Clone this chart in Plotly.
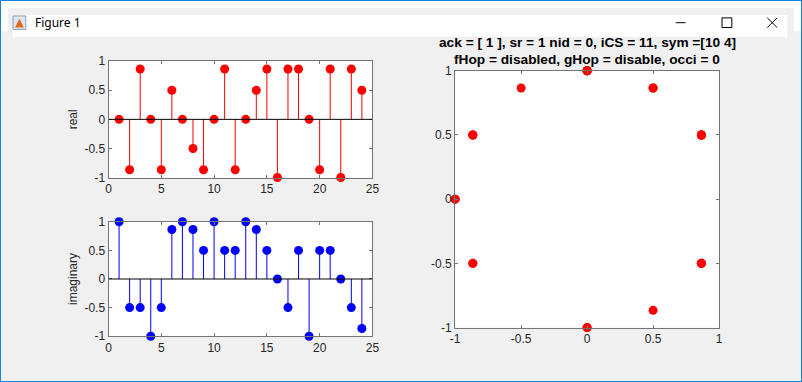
import plotly.graph_objects as go

n = list(range(1, 25))
real_vals = [0, -0.866, 0.866, 0, -0.866, 0.5, 0, -0.5, -0.866, 0, 0.866, -0.866,
             0, 0.5, 0.866, -1, 0.866, 0.866, 0, -0.866, 0.866, -1, 0.866, 0.5]
imag_vals = [1, -0.5, -0.5, -1, -0.5, 0.866, 1, 0.866, 0.5, 1, 0.5, 0.5,
             1, 0.866, 0.5, 0, -0.5, 0.5, -1, 0.5, 0.5, 0, -0.5, -0.866]
left_xticks = [0, 5, 10, 15, 20, 25]
ticks = [-1, -0.5, 0, 0.5, 1]
title_lines = ["ack = [ 1 ], sr = 1 nid = 0, iCS = 11, sym =[10 4]",
               "fHop = disabled, gHop = disable, occi = 0"]

# page body keeps its default 8px margin, so the figure is 16px smaller than the window
OX, OY = 8, 8
W, H = 786, 366
def fx(px): return (px - OX) / W
def fy(py): return 1 - (py - OY) / H

def stems(xs, ys):
    sx, sy = [], []
    for a, b in zip(xs, ys):
        sx += [a, a, None]
        sy += [0, b, None]
    return sx, sy

fig = go.Figure()
RED = "#ff0000"
BLUE = "#0000ff"

sx, sy = stems(n, real_vals)
fig.add_trace(go.Scatter(x=sx, y=sy, mode="lines", line=dict(color=RED, width=1),
                         xaxis="x", yaxis="y", showlegend=False, hoverinfo="skip"))
fig.add_trace(go.Scatter(x=n, y=real_vals, mode="markers", cliponaxis=False,
                         marker=dict(color=RED, size=9), xaxis="x", yaxis="y", showlegend=False))
sx, sy = stems(n, imag_vals)
fig.add_trace(go.Scatter(x=sx, y=sy, mode="lines", line=dict(color=BLUE, width=1),
                         xaxis="x2", yaxis="y2", showlegend=False, hoverinfo="skip"))
fig.add_trace(go.Scatter(x=n, y=imag_vals, mode="markers", cliponaxis=False,
                         marker=dict(color=BLUE, size=9), xaxis="x2", yaxis="y2", showlegend=False))
fig.add_trace(go.Scatter(x=real_vals, y=imag_vals, mode="markers", cliponaxis=False,
                         marker=dict(color=RED, size=9), xaxis="x3", yaxis="y3", showlegend=False))

FONT = dict(family="Liberation Sans, Arial, sans-serif", size=12, color="#262626")
LINEC = "#747474"

def ax(domain, rng, tv, anchor, **kw):
    d = dict(domain=domain, range=rng, tickvals=tv, ticktext=[f"{t:g}" for t in tv],
             showline=True, mirror="ticks", linecolor=LINEC, linewidth=1,
             ticks="inside", ticklen=3, tickcolor=LINEC, showgrid=False, zeroline=False,
             tickfont=FONT, anchor=anchor, fixedrange=True)
    d.update(kw)
    return d

xl = [fx(105), fx(373)]
fig.update_layout(
    width=W, height=H, margin=dict(l=0, r=0, t=0, b=0),
    paper_bgcolor="#f0f0f0", plot_bgcolor="#ffffff",
    xaxis=ax(xl, [0, 25], left_xticks, "y"),
    yaxis=ax([fy(177), fy(56)], [-1, 1], ticks, "x",
             title=dict(text="real", font=FONT, standoff=4)),
    xaxis2=ax(xl, [0, 25], left_xticks, "y2"),
    yaxis2=ax([fy(342), fy(223)], [-1, 1], ticks, "x2",
              title=dict(text="imaginary", font=FONT, standoff=4)),
    xaxis3=ax([fx(457), fx(725)], [-1, 1], ticks, "y3"),
    yaxis3=ax([fy(333), fy(66)], [-1, 1], ticks, "x3"),
    font=FONT,
)

shapes = []
shapes.append(dict(type="line", xref="x", yref="y", x0=0, x1=25, y0=0, y1=0,
                   line=dict(color="#000000", width=1)))
shapes.append(dict(type="line", xref="x2", yref="y2", x0=0, x1=25, y0=0, y1=0,
                   line=dict(color="#000000", width=1)))
# title bar
shapes.append(dict(type="rect", xref="paper", yref="paper", x0=0, x1=1, y0=fy(31), y1=1,
                   fillcolor="#ffffff", line=dict(width=0), layer="below"))
# minimize / maximize / close glyphs
shapes.append(dict(type="line", xref="paper", yref="paper", x0=fx(681), x1=fx(691),
                   y0=fy(16), y1=fy(16), line=dict(color="#000000", width=1)))
shapes.append(dict(type="rect", xref="paper", yref="paper", x0=fx(728), x1=fx(738),
                   y0=fy(21), y1=fy(11), line=dict(color="#000000", width=1)))
shapes.append(dict(type="line", xref="paper", yref="paper", x0=fx(774), x1=fx(784),
                   y0=fy(11), y1=fy(21), line=dict(color="#000000", width=1)))
shapes.append(dict(type="line", xref="paper", yref="paper", x0=fx(774), x1=fx(784),
                   y0=fy(21), y1=fy(11), line=dict(color="#000000", width=1)))
# icon
shapes.append(dict(type="rect", xref="paper", yref="paper", x0=fx(8), x1=fx(21),
                   y0=fy(23), y1=fy(9), fillcolor="#dde6f0", line=dict(color="#8aa0b8", width=1)))
shapes.append(dict(type="path", xref="paper", yref="paper",
                   path=f"M {fx(10)},{fy(21)} L {fx(14.5)},{fy(12)} L {fx(19)},{fy(21)} Z",
                   fillcolor="#e06a1c", line=dict(width=0)))
fig.update_layout(shapes=shapes)

ann = []
ann.append(dict(text="Figure 1", xref="paper", yref="paper", x=fx(28), y=fy(16),
                xanchor="left", yanchor="middle", showarrow=False,
                font=dict(family="Noto Sans, Liberation Sans, sans-serif", size=12, color="#000000")))
tcx = fx((457 + 725) / 2)
ann.append(dict(text=f"<b>{title_lines[0]}</b>", xref="paper", yref="paper", x=tcx, y=fy(37),
                xanchor="center", yanchor="middle", showarrow=False,
                font=dict(family="Liberation Sans, Arial, sans-serif", size=13.7, color="#000000")))
ann.append(dict(text=f"<b>{title_lines[1]}</b>", xref="paper", yref="paper", x=tcx, y=fy(54),
                xanchor="center", yanchor="middle", showarrow=False,
                font=dict(family="Liberation Sans, Arial, sans-serif", size=13.7, color="#000000")))
fig.update_layout(annotations=ann)

page_style = (
    "var h=document.documentElement;"
    "h.style.background='linear-gradient(to bottom,#ffffff 0px,#ffffff 31px,#f0f0f0 31px,#f0f0f0 100%)';"
    "h.style.backgroundColor='#f0f0f0';"
    "h.style.minHeight='100%';"
    "h.style.boxShadow='inset 0 0 0 1px #1883d7';"
    "document.body.style.background='transparent';"
)
fig.write_html("out.html", config={"displayModeBar": False}, post_script=page_style)
